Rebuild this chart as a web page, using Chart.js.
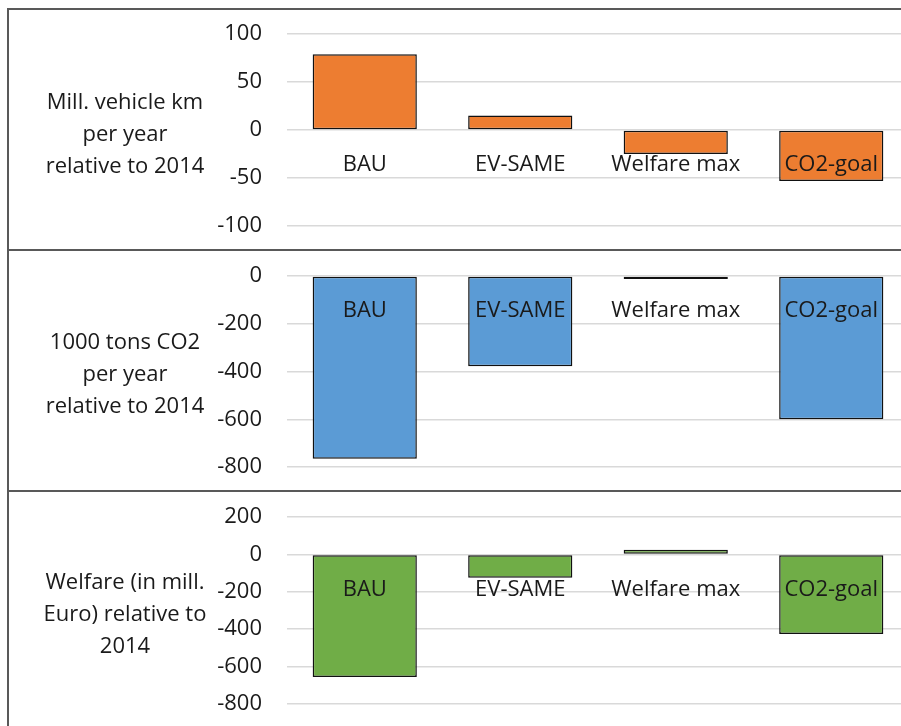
<!doctype html>
<html>
<head>
<meta charset="utf-8" />
<title>Scenario results relative to 2014</title>
<script src="https://cdn.jsdelivr.net/npm/chart.js"></script>
<style>
  html, body { margin: 0; padding: 0; background: #fff; overflow: hidden; }
  body { width: 901px; height: 726px; position: relative; font-family: "Open Sans", Lato, sans-serif; color: #1a1a1a; }
  .frame { position: absolute; left: 7px; top: 8px; width: 960px; height: 800px; border-left: 2px solid #595959; border-top: 2px solid #595959; }
  .sep { position: absolute; left: 7px; width: 960px; border-top: 2px solid #595959; }
  .panel { position: absolute; left: 0; }
  .label { position: absolute; left: 10px; width: 230px; text-align: center; font-size: 22px; line-height: 32px; }
</style>
</head>
<body>
<div class="frame"></div>
<div class="sep" style="top:249px"></div>
<div class="sep" style="top:490px"></div>

<canvas id="km" class="panel" width="920" height="240" style="top:10px"></canvas>
<canvas id="co2" class="panel" width="920" height="240" style="top:251px"></canvas>
<canvas id="wf" class="panel" width="920" height="234" style="top:492px"></canvas>

<div class="label" style="top:84px">Mill. vehicle km<br>per year<br>relative to 2014</div>
<div class="label" style="top:324px">1000 tons CO2<br>per year<br>relative to 2014</div>
<div class="label" style="top:564px">Welfare (in mill.<br>Euro) relative to<br>2014</div>

<script>
// Szenarien
const categories = ["BAU", "EV-SAME", "Welfare max", "CO2-goal"];

// Werte
const vehicleKm = [79, 15, -25, -53];
const co2Tons = [-765, -378, -1, -600];
const welfare = [-655, -125, 25, -425];

// Achsen: [min, max, step]
const kmAxis = [-100, 100, 50];
const co2Axis = [-800, 0, 200];
const welfareAxis = [-800, 200, 200];

const FONT = { family: "'Open Sans', Lato, sans-serif", size: 22 };
const TEXT = "#1a1a1a";

// Skalen sollen keinen Zusatzrand beanspruchen
function noPad(s) {
  s.paddingTop = 0; s.paddingBottom = 0; s.paddingLeft = 0; s.paddingRight = 0;
}

function panel(id, values, axis, color, pad) {
  const [min, max, step] = axis;
  return new Chart(document.getElementById(id), {
    type: "bar",
    data: {
      labels: categories,
      datasets: [{
        data: values,
        backgroundColor: color,
        borderColor: "#111",
        borderWidth: 1.5,
        borderSkipped: false,
        minBarLength: 3,
        categoryPercentage: 1,
        barPercentage: 0.67
      }]
    },
    options: {
      responsive: false,
      animation: false,
      devicePixelRatio: 1,
      layout: { padding: { left: 0, right: 11, top: pad[0], bottom: pad[1] } },
      plugins: { legend: { display: false }, tooltip: { enabled: false } },
      scales: {
        x: {
          position: { y: 0 },
          grid: { display: false, drawTicks: false },
          border: { display: false },
          ticks: { z: 1, color: TEXT, font: FONT, padding: 22, maxRotation: 0, autoSkip: false },
          afterFit: (s) => { s.height = 0; noPad(s); }
        },
        y: {
          min, max,
          grid: { color: "#d9d9d9", lineWidth: 1.5, drawTicks: false },
          border: { display: false },
          ticks: { stepSize: step, color: TEXT, font: FONT, padding: 25 },
          afterFit: (s) => { s.width = 287; noPad(s); }
        }
      }
    }
  });
}

panel("km", vehicleKm, kmAxis, "#ED7D31", [24, 24]);
panel("co2", co2Tons, co2Axis, "#5B9BD5", [25, 24]);
panel("wf", welfare, welfareAxis, "#70AD47", [25, 22]);
</script>
</body>
</html>
